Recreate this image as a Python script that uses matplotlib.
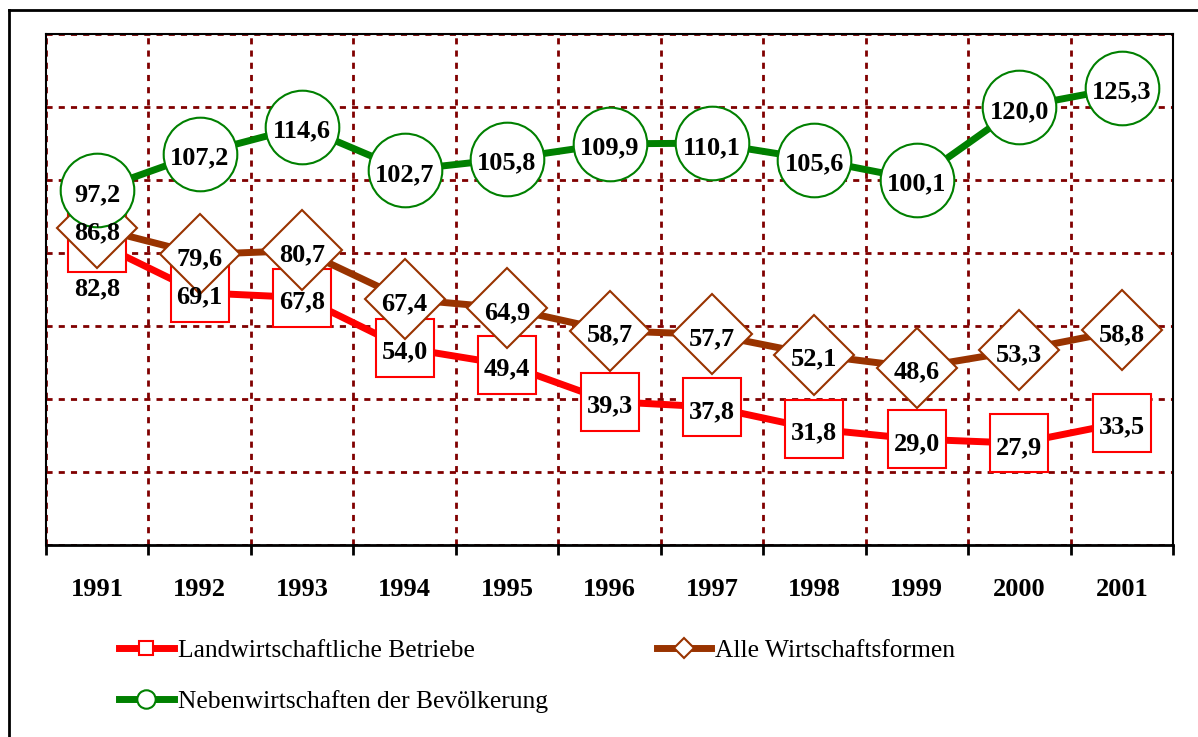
import matplotlib
matplotlib.use('Agg')
import matplotlib.pyplot as plt
from matplotlib.lines import Line2D
import numpy as np

YEARS = ['1991', '1992', '1993', '1994', '1995', '1996', '1997', '1998', '1999', '2000', '2001']
LANDW = [82.8, 69.1, 67.8, 54.0, 49.4, 39.3, 37.8, 31.8, 29.0, 27.9, 33.5]
ALLE = [86.8, 79.6, 80.7, 67.4, 64.9, 58.7, 57.7, 52.1, 48.6, 53.3, 58.8]
NEBEN = [97.2, 107.2, 114.6, 102.7, 105.8, 109.9, 110.1, 105.6, 100.1, 120.0, 125.3]
SERIES_NAMES = ['Landwirtschaftliche Betriebe', 'Alle Wirtschaftsformen',
                'Nebenwirtschaften der Bevölkerung']

RED, BROWN, GREEN = '#FF0000', '#993300', '#008000'
GRID = '#800000'
SERIF = ['Liberation Serif', 'DejaVu Serif']

fig = plt.figure(figsize=(11.98, 7.37), dpi=100)
ax = fig.add_axes([46 / 1198, 1 - 545 / 737, (1173 - 46) / 1198, (545 - 34) / 737])

x = np.arange(len(YEARS))
h_red, = ax.plot(x, LANDW, color=RED, lw=5, marker='s', ms=42, mfc='white',
                 mec=RED, mew=1.5, zorder=3)
h_brown, = ax.plot(x, ALLE, color=BROWN, lw=5, marker='D', ms=41, mfc='white',
                   mec=BROWN, mew=1.5, zorder=4)
h_green, = ax.plot(x, NEBEN, color=GREEN, lw=5, marker='o', ms=53, mfc='white',
                   mec=GREEN, mew=1.5, zorder=5)

lab = dict(ha='center', va='center', fontsize=19, fontweight='bold',
           family=SERIF, zorder=10)
for xi, v in zip(x, LANDW):
    if xi == 0:
        ax.text(xi, v - 12.5, f'{v:.1f}'.replace('.', ','), **lab)
    else:
        ax.text(xi, v - 1.2, f'{v:.1f}'.replace('.', ','), **lab)
for vals in (ALLE, NEBEN):
    for xi, v in zip(x, vals):
        ax.text(xi, v - 1.2, f'{v:.1f}'.replace('.', ','), **lab)

ax.set_xlim(-0.5, len(YEARS) - 0.5)
ax.set_ylim(0, 140)
ax.set_yticks(np.arange(0, 141, 20))
ax.set_xticks(np.arange(-0.5, len(YEARS)))
ax.set_xticks(x, minor=True)
ax.set_xticklabels([])
ax.set_xticklabels(YEARS, minor=True, fontsize=19, fontweight='bold', family=SERIF)
ax.tick_params(axis='x', which='major', direction='out', length=7, width=2, color='black')
ax.tick_params(axis='x', which='minor', length=0, pad=24)
ax.tick_params(axis='y', length=0, labelleft=False)
ax.grid(True, which='major', color=GRID, lw=2, ls=(0, (2.2, 2.2)))
ax.set_axisbelow(True)
for side in ('left', 'top', 'right'):
    ax.spines[side].set_linewidth(1.5)
ax.spines['bottom'].set_linewidth(2)

fig.legend([h_red, h_green, h_brown],
           [SERIES_NAMES[0], SERIES_NAMES[2], SERIES_NAMES[1]],
           ncol=2, loc='upper left', bbox_to_anchor=(119 / 1198, 1 - 639 / 737),
           frameon=False, prop={'family': SERIF, 'size': 18.4},
           handlelength=2.15, handletextpad=0.15, columnspacing=4.25,
           labelspacing=1.1, markerscale=0.25, borderpad=0, borderaxespad=0)

# outer frame (left and top edges)
fig.add_artist(Line2D([9 / 1198, 9 / 1198], [0, 1 - 10 / 737], color='black', lw=2,
                      transform=fig.transFigure))
fig.add_artist(Line2D([9 / 1198, 1], [1 - 10 / 737, 1 - 10 / 737], color='black', lw=2,
                      transform=fig.transFigure))

fig.savefig('out.png', dpi=100)
